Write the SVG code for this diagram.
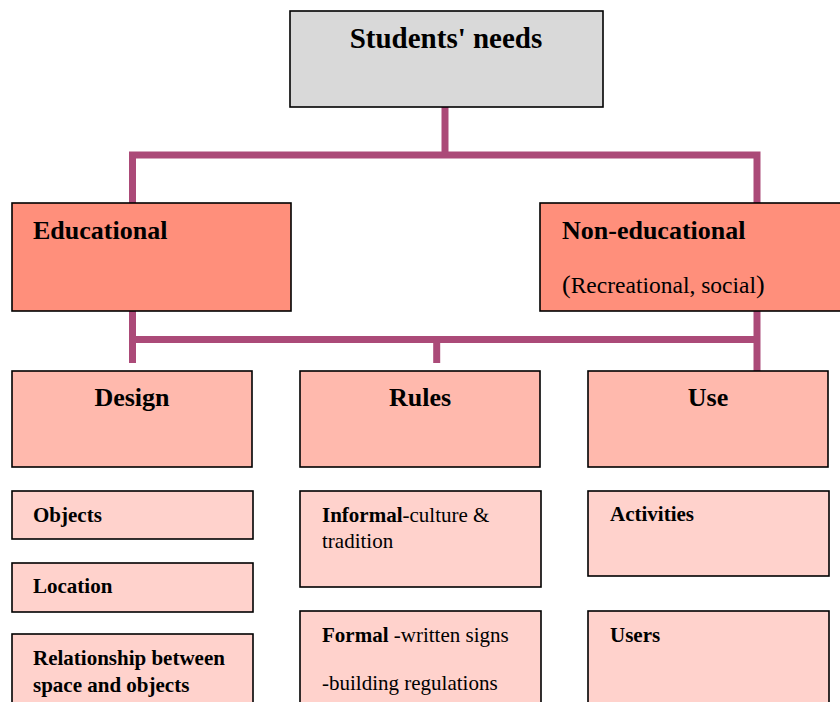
<svg xmlns="http://www.w3.org/2000/svg" width="840" height="702" viewBox="0 0 840 702">
  <style>
    text { font-family: "Liberation Serif", "Times New Roman", serif; fill: #000; }
    .box { stroke: #000; stroke-width: 1.6; }
    .root { fill: #D9D9D9; }
    .cat { fill: #FF8F7B; }
    .sub { fill: #FFB9AD; }
    .item { fill: #FFD2CC; }
    .h1 { font-size: 29px; font-weight: bold; }
    .h2 { font-size: 26px; font-weight: bold; }
    .b { font-size: 21px; font-weight: bold; }
    .r { font-size: 21px; }
    .link { fill: none; stroke: #AB4A78; stroke-width: 7; stroke-linejoin: miter; stroke-linecap: butt; }
  </style>

  <!-- connectors -->
  <g id="connectors">
    <path class="link" d="M445,107 V155"/>
    <path class="link" d="M132.5,203 V155 H757 V203"/>
    <path class="link" d="M132.5,311 V363"/>
    <path class="link" d="M132.5,339.5 H757"/>
    <path class="link" d="M757,311 V371"/>
    <path class="link" d="M436.7,339.5 V363"/>
  </g>

  <!-- top node -->
  <g id="students-needs">
    <rect class="box root" x="290" y="11" width="313" height="96"/>
    <text class="h1" x="446" y="48" text-anchor="middle">Students' needs</text>
  </g>

  <!-- categories -->
  <g id="educational">
    <rect class="box cat" x="12" y="203" width="279" height="108"/>
    <text class="h2" x="33" y="239">Educational</text>
  </g>
  <g id="non-educational">
    <rect class="box cat" x="540" y="203" width="320" height="108"/>
    <text class="h2" x="562" y="239">Non-educational</text>
    <text x="562" y="293"><tspan font-size="26">(</tspan><tspan font-size="23.5">Recreational, social</tspan><tspan font-size="26">)</tspan></text>
  </g>

  <!-- aspects -->
  <g id="design">
    <rect class="box sub" x="12" y="371" width="240" height="96"/>
    <text class="h2" x="132" y="406" text-anchor="middle">Design</text>
  </g>
  <g id="rules">
    <rect class="box sub" x="300" y="371" width="240" height="96"/>
    <text class="h2" x="420" y="406" text-anchor="middle">Rules</text>
  </g>
  <g id="use">
    <rect class="box sub" x="588" y="371" width="240" height="96"/>
    <text class="h2" x="708" y="406" text-anchor="middle">Use</text>
  </g>

  <!-- design items -->
  <g id="objects">
    <rect class="box item" x="12" y="491" width="241" height="48"/>
    <text class="b" x="33" y="522">Objects</text>
  </g>
  <g id="location">
    <rect class="box item" x="12" y="563" width="241" height="49"/>
    <text class="b" x="33" y="593">Location</text>
  </g>
  <g id="relationship">
    <rect class="box item" x="12" y="634" width="241" height="90"/>
    <text class="b" x="33" y="665">Relationship between</text>
    <text class="b" x="33" y="692">space and objects</text>
  </g>

  <!-- rules items -->
  <g id="informal">
    <rect class="box item" x="300" y="491" width="241" height="96"/>
    <text class="r" x="322" y="522"><tspan font-weight="bold">Informal</tspan>-culture &amp;</text>
    <text class="r" x="322" y="548">tradition</text>
  </g>
  <g id="formal">
    <rect class="box item" x="300" y="611" width="241" height="110"/>
    <text class="r" x="322" y="642"><tspan font-weight="bold">Formal</tspan> -written signs</text>
    <text class="r" x="322" y="690">-building regulations</text>
  </g>

  <!-- use items -->
  <g id="activities">
    <rect class="box item" x="588" y="491" width="241" height="85"/>
    <text class="b" x="610" y="521">Activities</text>
  </g>
  <g id="users">
    <rect class="box item" x="588" y="611" width="241" height="110"/>
    <text class="b" x="610" y="642">Users</text>
  </g>
</svg>
